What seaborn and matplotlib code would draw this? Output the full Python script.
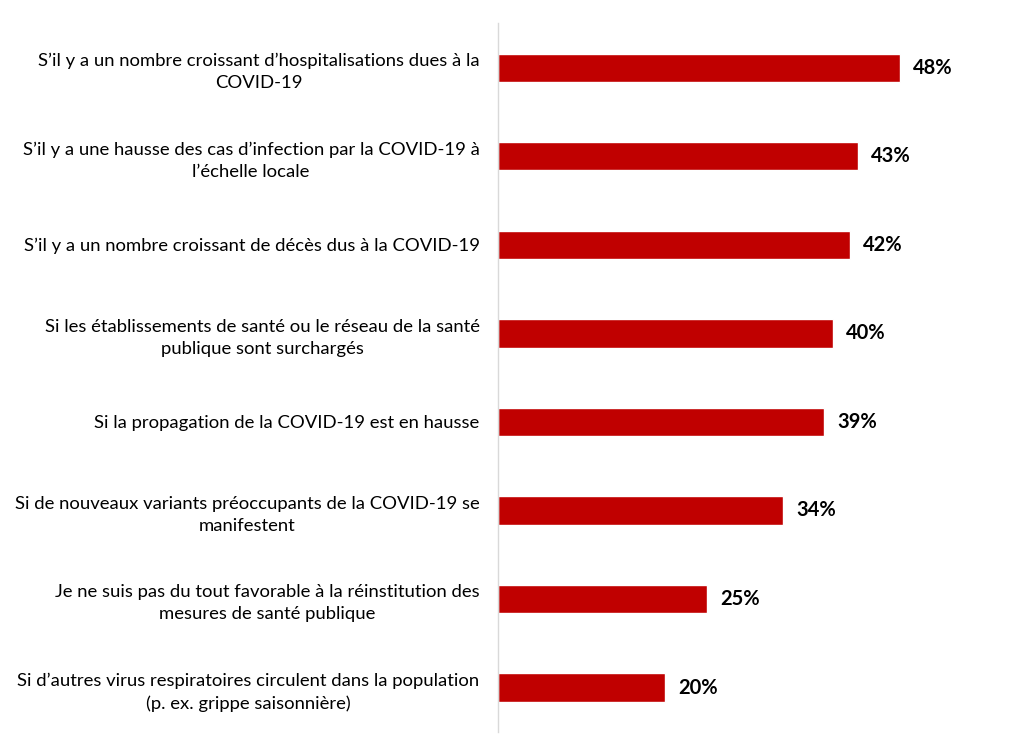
import matplotlib
matplotlib.use("Agg")
import matplotlib.pyplot as plt
import pandas as pd
import seaborn as sns

categories = [
    "S’il y a un nombre croissant d’hospitalisations dues à la\nCOVID-19",
    "S’il y a une hausse des cas d’infection par la COVID-19 à\nl’échelle locale",
    "S’il y a un nombre croissant de décès dus à la COVID-19",
    "Si les établissements de santé ou le réseau de la santé\npublique sont surchargés",
    "Si la propagation de la COVID-19 est en hausse",
    "Si de nouveaux variants préoccupants de la COVID-19 se\nmanifestent",
    "Je ne suis pas du tout favorable à la réinstitution des\nmesures de santé publique",
    "Si d’autres virus respiratoires circulent dans la population\n(p. ex. grippe saisonnière)",
]
values = [48, 43, 42, 40, 39, 34, 25, 20]

df = pd.DataFrame({"label": categories, "pct": values})

sns.set_theme(style="white")
plt.rcParams["font.family"] = ["Lato", "DejaVu Sans"]

fig = plt.figure(figsize=(10.24, 7.56), dpi=100)
ax = fig.add_axes([0.486, 0.032, 0.45, 0.937])

sns.barplot(data=df, x="pct", y="label", color="#C00000", saturation=1,
            width=0.32, ax=ax)

for i, v in enumerate(values):
    ax.text(v + 1.6, i, f"{v}%", va="center", ha="left",
            fontsize=14.5, fontweight="bold", color="#000000")

ax.set_xlim(0, 55)
ax.set_ylim(7.5, -0.5)
ax.set_xlabel("")
ax.set_ylabel("")
ax.set_xticks([])
for s in ["top", "right", "bottom"]:
    ax.spines[s].set_visible(False)
ax.spines["left"].set_color("#D9D9D9")
ax.spines["left"].set_linewidth(1)
ax.tick_params(axis="y", length=0, pad=13)
for t in ax.get_yticklabels():
    t.set_multialignment("center")
    t.set_linespacing(1.45)
    t.set_fontsize(13.3)
    t.set_color("#000000")

fig.savefig("out.png", dpi=100)
